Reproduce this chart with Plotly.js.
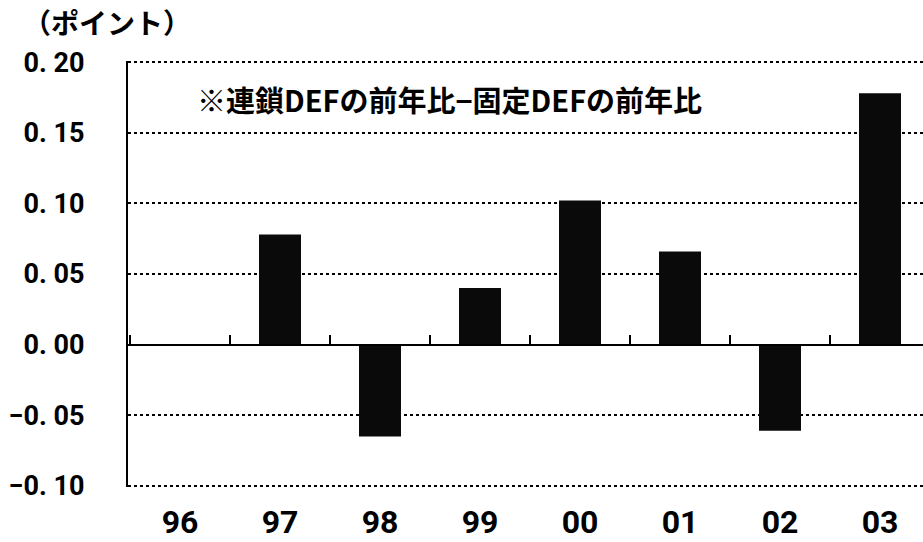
<!DOCTYPE html>
<html>
<head>
<meta charset="utf-8">
<script src="https://cdn.plot.ly/plotly-3.0.1.min.js"></script>
<style>html,body{margin:0;padding:0;background:#fff;}#chart{width:923px;height:542px;}</style>
</head>
<body>
<div id="chart"></div>
<script>
// Data
const years = ['96', '97', '98', '99', '00', '01', '02', '03'];
const diffValues = [0, 0.078, -0.065, 0.040, 0.102, 0.066, -0.061, 0.178];
const yTickVals = [-0.10, -0.05, 0.00, 0.05, 0.10, 0.15, 0.20];
const yTickText = ['\u22120. 10', '\u22120. 05', '0. 00', '0. 05', '0. 10', '0. 15', '0. 20'];
const unitLabel = '（ポイント）';
const noteLabel = '※連鎖DEFの前年比−固定DEFの前年比';

const numFont = {family: '"Liberation Sans Narrow", "Roboto", "Liberation Sans", sans-serif', color: '#000', weight: 'bold'};
const cjkFont = {family: '"Noto Sans CJK JP", "Noto Sans", sans-serif', color: '#000', weight: 'bold'};

const traces = [
  {
    type: 'bar',
    x: years,
    y: diffValues,
    width: 0.42,
    marker: {color: '#0a0a0a', line: {width: 0}},
    hoverinfo: 'x+y',
    xaxis: 'x',
    yaxis: 'y'
  },
  {
    type: 'scatter',
    mode: 'markers',
    x: years,
    y: years.map(() => null),
    xaxis: 'x2',
    yaxis: 'y',
    showlegend: false,
    hoverinfo: 'skip'
  }
];

const xRange = [-0.52, 7.43];

const layout = {
  width: 923,
  height: 542,
  margin: {l: 128, r: 0, t: 61, b: 55},
  paper_bgcolor: '#fff',
  plot_bgcolor: '#fff',
  showlegend: false,
  xaxis: {
    type: 'category',
    categoryarray: years,
    range: xRange,
    showgrid: false,
    showline: false,
    zeroline: false,
    ticks: '',
    ticklabelstandoff: 13,
    tickfont: Object.assign({size: 32}, numFont),
    anchor: 'y',
    side: 'bottom',
    fixedrange: true
  },
  xaxis2: {
    type: 'category',
    categoryarray: years,
    range: xRange,
    overlaying: 'x',
    anchor: 'free',
    position: 1 / 3,
    showline: true,
    linecolor: '#000',
    linewidth: 2,
    ticks: 'inside',
    tickson: 'boundaries',
    ticklen: 9,
    tickwidth: 2,
    tickcolor: '#000',
    showticklabels: false,
    showgrid: false,
    zeroline: false,
    fixedrange: true
  },
  yaxis: {
    range: [-0.1008, 0.2008],
    tickvals: yTickVals,
    ticktext: yTickText,
    showgrid: true,
    gridcolor: '#000',
    gridwidth: 2,
    griddash: '3px,3px',
    showline: true,
    linecolor: '#000',
    linewidth: 2,
    zeroline: false,
    ticks: '',
    ticklabelstandoff: 36,
    tickfont: Object.assign({size: 27}, numFont),
    fixedrange: true
  },
  annotations: [
    {
      text: unitLabel,
      xref: 'paper', yref: 'paper',
      x: -0.134, y: 1.0,
      xanchor: 'left', yanchor: 'bottom',
      yshift: 17,
      showarrow: false,
      font: Object.assign({size: 28}, cjkFont)
    },
    {
      text: noteLabel,
      xref: 'paper', yref: 'y',
      x: 0.084, y: 0.174,
      xanchor: 'left', yanchor: 'middle',
      showarrow: false,
      font: Object.assign({size: 29}, cjkFont)
    }
  ]
};

Plotly.newPlot('chart', traces, layout, {displayModeBar: false, staticPlot: true});
</script>
</body>
</html>
